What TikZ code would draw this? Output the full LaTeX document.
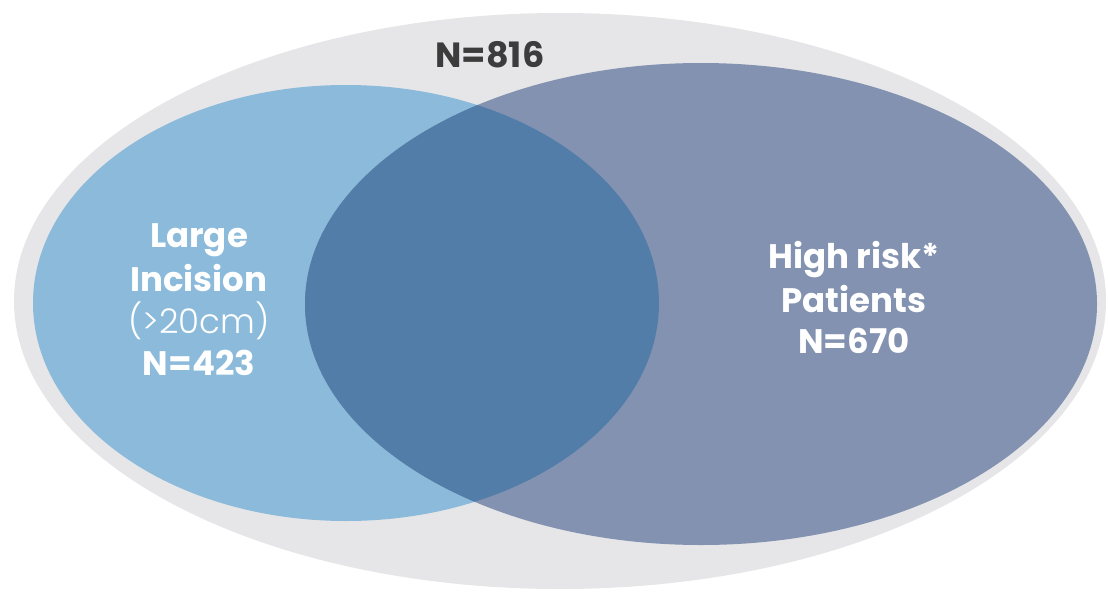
\documentclass[tikz,border=0pt]{standalone}
\usepackage{fontspec}
\setmainfont{Poppins}
\newfontfamily\lightfont{Poppins Light}
\definecolor{outergray}{RGB}{230,230,232}
\definecolor{lightblue}{RGB}{139,186,219}
\definecolor{darkblue}{RGB}{130,146,176}
\definecolor{overlap}{RGB}{82,125,168}
\definecolor{titlegray}{RGB}{60,60,60}
\tikzset{
  lbl/.style={anchor=base, text=white, font=\fontsize{34}{34}\selectfont\bfseries, inner sep=0pt},
  lbllight/.style={anchor=base, text=white, font=\fontsize{34}{34}\selectfont\lightfont, inner sep=0pt},
}
\begin{document}
\begin{tikzpicture}[x=1pt,y=-1pt]
\useasboundingbox (0,0) rectangle (1108,595);
\fill[outergray] (560,301) ellipse [x radius=546, y radius=288];
\fill[lightblue] (346,303) ellipse [x radius=313, y radius=218];
\fill[darkblue] (701,304) ellipse [x radius=396, y radius=241];
\begin{scope}
  \clip (346,303) ellipse [x radius=313, y radius=218];
  \fill[overlap] (701,304) ellipse [x radius=396, y radius=241];
\end{scope}
\node[anchor=base, text=titlegray, font=\fontsize{35}{35}\selectfont\bfseries, inner sep=0pt] (total) at (490,67) {N=816};
\node[lbl] (l1) at (199,247) {Large};
\node[lbl] (l2) at (199,291) {Incision};
\node[lbllight] (l3) at (199,333) {(>20cm)};
\node[lbl] (l4) at (199,375) {N=423};
\node[lbl] (r1) at (854,268) {High risk*};
\node[lbl] (r2) at (854,312) {Patients};
\node[lbl] (r3) at (854,353) {N=670};
\end{tikzpicture}
\end{document}
